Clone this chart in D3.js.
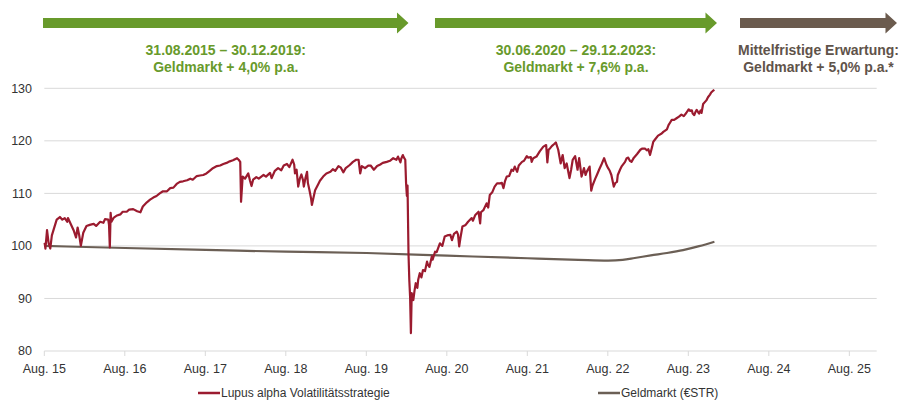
<!DOCTYPE html>
<html>
<head>
<meta charset="utf-8">
<script src="https://cdn.jsdelivr.net/npm/d3@7"></script>
<style>
  html, body { margin: 0; padding: 0; background: #fff; }
  svg { display: block; }
  text { font-family: "Liberation Sans", Arial, sans-serif; }
</style>
</head>
<body>
<svg id="chart" width="907" height="409"></svg>
<script>
// ---------- DATA ----------
// time in decimal years, values indexed (start = 100)
const fundYears = [
  2015.67,2015.68,2015.70,2015.72,2015.74,2015.76,2015.78,2015.82,2015.86,2015.89,
  2015.92,2015.95,2015.96,2015.99,2016.03,2016.06,2016.08,2016.10,2016.12,2016.15,
  2016.19,2016.23,2016.28,2016.31,2016.36,2016.40,2016.42,2016.46,2016.47,2016.48,
  2016.49,2016.50,2016.53,2016.57,2016.61,2016.64,2016.69,2016.72,2016.77,2016.82,
  2016.86,2016.89,2016.94,2016.98,2017.02,2017.06,2017.10,2017.14,2017.19,2017.23,
  2017.27,2017.31,2017.35,2017.39,2017.44,2017.48,2017.51,2017.56,2017.60,2017.64,
  2017.68,2017.72,2017.76,2017.81,2017.85,2017.89,2017.93,2017.97,2018.01,2018.06,
  2018.08,2018.10,2018.11,2018.13,2018.16,2018.20,2018.22,2018.24,2018.26,2018.30,
  2018.33,2018.39,2018.42,2018.47,2018.49,2018.53,2018.57,2018.61,2018.64,2018.68,
  2018.71,2018.75,2018.77,2018.78,2018.80,2018.82,2018.84,2018.86,2018.88,2018.89,
  2018.91,2018.93,2018.94,2018.96,2018.98,2018.99,2019.01,2019.03,2019.07,2019.09,
  2019.13,2019.17,2019.22,2019.25,2019.28,2019.32,2019.35,2019.38,2019.41,2019.46,
  2019.50,2019.54,2019.57,2019.59,2019.61,2019.65,2019.69,2019.72,2019.76,2019.80,
  2019.84,2019.87,2019.92,2019.96,2020.00,2020.04,2020.06,2020.09,2020.10,2020.12,
  2020.13,2020.15,2020.16,2020.17,2020.178,2020.19,2020.20,2020.21,2020.22,2020.23,
  2020.25,2020.265,2020.28,2020.30,2020.31,2020.33,2020.35,2020.37,2020.395,2020.42,
  2020.43,2020.45,2020.48,2020.49,2020.52,2020.54,2020.58,2020.61,2020.64,2020.67,
  2020.71,2020.73,2020.755,2020.79,2020.805,2020.82,2020.835,2020.86,2020.90,2020.93,
  2020.975,2020.99,2021.02,2021.06,2021.08,2021.09,2021.12,2021.16,2021.18,2021.20,
  2021.23,2021.26,2021.29,2021.33,2021.35,2021.37,2021.39,2021.41,2021.44,2021.47,
  2021.49,2021.51,2021.54,2021.56,2021.60,2021.625,2021.66,2021.675,2021.71,2021.72,
  2021.74,2021.78,2021.82,2021.865,2021.90,2021.915,2021.93,2021.95,2021.97,2022.00,
  2022.02,2022.05,2022.08,2022.09,2022.105,2022.13,2022.155,2022.19,2022.21,2022.23,
  2022.26,2022.29,2022.31,2022.34,2022.37,2022.39,2022.40,2022.44,2022.46,2022.476,
  2022.51,2022.53,2022.56,2022.59,2022.62,2022.65,2022.67,2022.69,2022.71,2022.74,
  2022.76,2022.78,2022.79,2022.82,2022.84,2022.88,2022.90,2022.92,2022.94,2022.96,
  2022.99,2023.03,2023.07,2023.09,2023.13,2023.15,2023.17,2023.19,2023.215,2023.23,
  2023.25,2023.29,2023.335,2023.355,2023.40,2023.42,2023.44,2023.46,2023.49,2023.52,
  2023.55,2023.58,2023.61,2023.64,2023.67,2023.69,2023.71,2023.72,2023.74,2023.755,
  2023.77,2023.79,2023.80,2023.82,2023.83,2023.85,2023.89,2023.91,2023.935,2023.95,
  2023.97,2023.99
];
const fundValues = [
  100.6,99.5,103.0,100.5,99.5,102.0,103.0,105.0,105.5,105.0,
  105.3,104.6,105.3,104.3,103.0,101.6,103.5,102.0,100.0,102.5,
  103.8,104.0,104.2,103.8,104.6,104.4,105.1,105.0,104.0,99.7,
  106.3,104.6,105.4,105.8,106.0,106.5,106.5,106.9,107.0,106.6,
  106.4,107.5,108.3,108.8,109.2,109.5,110.0,110.4,110.4,111.0,
  111.1,111.8,112.2,112.3,112.5,112.8,112.6,113.3,113.4,113.5,
  113.8,114.3,114.8,115.2,115.3,115.6,115.8,116.1,116.3,116.7,
  116.4,116.0,108.4,113.2,112.8,113.8,112.5,111.4,112.6,113.1,
  112.8,113.5,113.2,113.9,112.9,114.3,114.8,114.4,115.3,115.6,
  115.0,116.4,115.5,113.8,114.5,111.3,112.8,113.6,112.5,111.3,
  112.9,114.1,112.0,110.6,109.0,107.8,109.2,110.6,111.8,112.4,
  113.2,113.8,114.1,114.6,114.3,115.2,114.9,114.0,114.8,115.4,
  116.0,116.4,116.4,113.8,115.2,114.8,115.3,115.3,114.5,115.2,
  115.5,115.8,116.0,116.2,116.7,116.4,117.0,115.9,116.6,117.3,
  116.9,116.4,111.9,109.5,111.5,98.6,93.5,90.3,83.4,91.0,
  89.7,91.5,92.9,92.0,93.5,94.8,94.0,95.4,95.2,97.0,
  96.5,96.0,98.0,97.4,98.9,98.8,100.5,100.0,101.8,102.0,
  102.1,101.1,102.3,102.7,102.2,99.9,101.5,103.7,104.0,104.6,
  105.3,104.8,105.9,106.5,104.3,106.4,106.8,108.1,107.3,109.7,
  110.2,111.3,111.9,111.9,112.0,111.0,112.4,113.2,113.3,114.5,
  114.3,115.1,114.1,115.3,116.0,116.2,117.1,116.8,116.9,116.0,
  116.7,117.0,118.0,118.9,119.2,115.9,118.3,118.6,119.0,119.4,
  119.7,118.3,115.7,116.4,117.3,114.8,115.7,112.9,114.5,116.4,
  117.1,114.5,116.7,113.2,114.8,113.5,114.0,115.1,110.5,111.5,
  112.8,113.5,114.6,115.6,116.7,115.4,114.8,114.3,113.5,111.3,
  112.0,112.2,113.5,114.6,115.2,116.0,116.7,116.8,116.2,116.0,
  116.8,117.5,118.3,118.5,118.5,118.2,118.4,117.3,118.8,119.8,
  120.2,121.0,121.4,121.7,122.2,123.0,123.5,124.0,124.0,124.3,
  124.6,125.0,124.7,125.3,126.0,125.7,125.8,125.2,124.9,125.5,
  125.9,125.4,125.2,125.8,125.3,127.0,127.7,128.3,128.8,129.2,
  129.5,129.7
];
const moneyYears  = [2015.67,2016.67,2017.67,2018.67,2019.67,2020.67,2021.67,2022.30,2022.67,2022.85,2023.00,2023.20,2023.40,2023.60,2023.80,2023.99];
const moneyValues = [100.0, 99.6, 99.25, 98.9, 98.65, 98.15, 97.65, 97.35, 97.2, 97.35, 97.7, 98.2, 98.65, 99.2, 99.95, 100.8];

const tickYears  = [2015.666,2016.666,2017.666,2018.666,2019.666,2020.666,2021.666,2022.666,2023.666,2024.666,2025.666];
const tickLabels = ["Aug. 15","Aug. 16","Aug. 17","Aug. 18","Aug. 19","Aug. 20","Aug. 21","Aug. 22","Aug. 23","Aug. 24","Aug. 25"];
const yTicks = [80, 90, 100, 110, 120, 130];

// period arrows (decimal years: start of shaft, arrow tip)
const periodStart = [2015.650, 2020.519, 2024.308];
const periodEnd   = [2020.190, 2024.022, 2026.258];
const periodLine1 = ["31.08.2015 \u2013 30.12.2019:", "30.06.2020 \u2013 29.12.2023:", "Mittelfristige Erwartung:"];
const periodLine2 = ["Geldmarkt + 4,0% p.a.", "Geldmarkt + 7,6% p.a.", "Geldmarkt + 5,0% p.a.*"];
const periodColor = ["#689a2b", "#689a2b", "#6b5b4e"];
const periodText  = ["#689a2b", "#689a2b", "#5f534a"];

const seriesNames  = ["Lupus alpha Volatilitätsstrategie", "Geldmarkt (\u20acSTR)"];
const seriesColors = ["#9b1b2f", "#6b5f55"];

// ---------- CHART ----------
const svg = d3.select("#chart");
const x = d3.scaleLinear().domain([2015.666, 2026.006]).range([44.3, 876.7]);
const y = d3.scaleLinear().domain([80, 130]).range([351, 88.3]);

periodStart.forEach((s, i) => {
  const x0 = x(s), x1 = x(periodEnd[i]);
  const head = 11.5;
  const g = svg.append("g");
  g.append("path")
    .attr("d", `M${x0},18 L${x1 - head},18 L${x1 - head},12.5 L${x1},23 L${x1 - head},33.5 L${x1 - head},28 L${x0},28 Z`)
    .attr("fill", periodColor[i]);
  const cx = (x0 + x1) / 2;
  g.append("text").attr("x", cx).attr("y", 55).attr("text-anchor", "middle")
    .attr("font-size", 14).attr("font-weight", "bold").attr("fill", periodText[i])
    .text(periodLine1[i]);
  g.append("text").attr("x", cx).attr("y", 72).attr("text-anchor", "middle")
    .attr("font-size", 14).attr("font-weight", "bold").attr("fill", periodText[i])
    .text(periodLine2[i]);
});

// gridlines
svg.append("g").selectAll("line").data(yTicks).join("line")
  .attr("x1", x.range()[0]).attr("x2", x.range()[1])
  .attr("y1", d => y(d)).attr("y2", d => y(d))
  .attr("stroke", "#d9d9d9").attr("stroke-width", 1);

// y labels
svg.append("g").selectAll("text").data(yTicks).join("text")
  .attr("x", 32).attr("y", d => y(d)).attr("dy", "0.35em")
  .attr("text-anchor", "end").attr("font-size", 12.5).attr("fill", "#333")
  .text(d => d);

// x ticks
svg.append("g").selectAll("line").data(tickYears).join("line")
  .attr("x1", d => x(d)).attr("x2", d => x(d))
  .attr("y1", y(80)).attr("y2", y(80) + 5)
  .attr("stroke", "#d9d9d9").attr("stroke-width", 1);
svg.append("g").selectAll("text").data(tickYears).join("text")
  .attr("x", d => x(d)).attr("y", 373)
  .attr("text-anchor", "middle").attr("font-size", 12.5).attr("fill", "#333")
  .text((d, i) => tickLabels[i]);

// lines
const line = d3.line().x(d => x(d[0])).y(d => y(d[1]));
const moneyLine = d3.line().x(d => x(d[0])).y(d => y(d[1])).curve(d3.curveMonotoneX);

svg.append("path")
  .datum(moneyYears.map((t, i) => [t, moneyValues[i]]))
  .attr("d", moneyLine).attr("fill", "none")
  .attr("stroke", seriesColors[1]).attr("stroke-width", 2.2);

svg.append("path")
  .datum(fundYears.map((t, i) => [t, fundValues[i]]))
  .attr("d", line).attr("fill", "none")
  .attr("stroke", seriesColors[0]).attr("stroke-width", 2.2)
  .attr("stroke-linejoin", "round");

// legend
const legX = [198, 598];
seriesNames.forEach((n, i) => {
  svg.append("line").attr("x1", legX[i]).attr("x2", legX[i] + 22)
    .attr("y1", 393).attr("y2", 393)
    .attr("stroke", seriesColors[i]).attr("stroke-width", 2.5);
  svg.append("text").attr("x", legX[i] + 23).attr("y", 393).attr("dy", "0.35em")
    .attr("font-size", 12).attr("fill", "#333").text(n);
});
</script>
</body>
</html>
